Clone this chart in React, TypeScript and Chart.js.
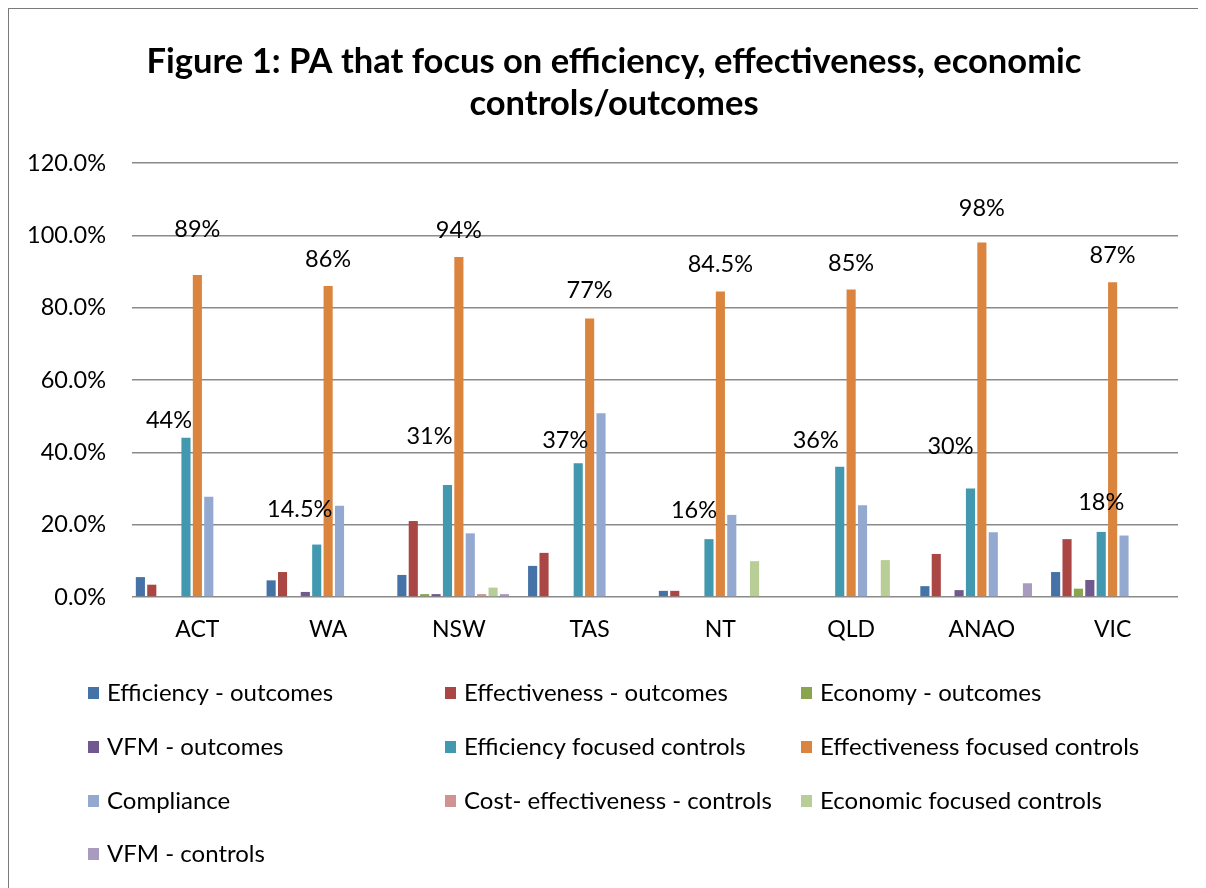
import React, { useEffect, useRef } from "react";
import { Chart, registerables } from "chart.js";

Chart.register(...registerables);

const categories = ["ACT", "WA", "NSW", "TAS", "NT", "QLD", "ANAO", "VIC"];

const efficiencyOutcomes = [5.5, 4.6, 6.1, 8.6, 1.7, 0, 3.0, 6.9];
const effectivenessOutcomes = [3.4, 6.9, 21.0, 12.2, 1.7, 0, 11.9, 16.0];
const economyOutcomes = [0, 0, 0.8, 0, 0, 0, 0, 2.3];
const vfmOutcomes = [0, 1.4, 0.8, 0, 0, 0, 1.9, 4.7];
const efficiencyControls = [44, 14.5, 31, 37, 16, 36, 30, 18];
const effectivenessControls = [89, 86, 94, 77, 84.5, 85, 98, 87];
const compliance = [27.7, 25.2, 17.6, 50.8, 22.7, 25.4, 17.9, 17.0];
const costEffectivenessControls = [0, 0, 0.8, 0, 0, 0, 0, 0];
const economicControls = [0, 0, 2.6, 0, 9.9, 10.2, 0, 0];
const vfmControls = [0, 0, 0.8, 0, 0, 0, 3.8, 0];

const seriesNames = [
  "Efficiency - outcomes",
  "Effectiveness - outcomes",
  "Economy - outcomes",
  "VFM - outcomes",
  "Efficiency focused controls",
  "Effectiveness focused controls",
  "Compliance",
  "Cost- effectiveness - controls",
  "Economic focused controls",
  "VFM - controls",
];
const seriesData = [
  efficiencyOutcomes,
  effectivenessOutcomes,
  economyOutcomes,
  vfmOutcomes,
  efficiencyControls,
  effectivenessControls,
  compliance,
  costEffectivenessControls,
  economicControls,
  vfmControls,
];
const seriesColors = [
  "#4572A7",
  "#AA4643",
  "#89A54E",
  "#71588F",
  "#4198AF",
  "#DB843D",
  "#93A9CF",
  "#D19392",
  "#B9CD96",
  "#A99BBD",
];

const yTickMax = 120;
const yTickStep = 20;

const titleLines = [
  "Figure 1: PA that focus on efficiency, effectiveness, economic",
  "controls/outcomes",
];

// label placement (offset of label centre from bar top-centre), styling only
const efficiencyLabelOffsets = [
  [-17, -17], [-17, -35], [-18, -48], [-13, -23],
  [-15, -29], [-24, -26], [-20, -42], [0, -29],
];
const effectivenessLabelOffsets = [
  [0, -46], [0, -27], [0, -27], [0, -28],
  [0, -27], [0, -26], [0, -34], [0, -27],
];

const FONT = "Lato, 'Open Sans', sans-serif";
const CW = 1197;
const CH = 879;

const fmtValue = (v: number) => `${v}%`;

const labelPlugin = {
  id: "valueLabels",
  afterDatasetsDraw(chart: any) {
    const ctx = chart.ctx;
    ctx.save();
    ctx.font = `23.5px ${FONT}`;
    ctx.fillStyle = "#000";
    ctx.textAlign = "center";
    ctx.textBaseline = "middle";
    const specs: [number, number[][]][] = [
      [4, efficiencyLabelOffsets],
      [5, effectivenessLabelOffsets],
    ];
    specs.forEach(([di, offs]) => {
      const meta = chart.getDatasetMeta(di);
      meta.data.forEach((el: any, i: number) => {
        const v = chart.data.datasets[di].data[i];
        const [dx, dy] = offs[i];
        ctx.fillText(fmtValue(v), el.x + dx, el.y + dy);
      });
    });
    ctx.restore();
  },
};

const titlePlugin = {
  id: "titleLines",
  afterDraw(chart: any) {
    const ctx = chart.ctx;
    ctx.save();
    ctx.font = `bold 34.5px ${FONT}`;
    ctx.fillStyle = "#000";
    ctx.textAlign = "center";
    ctx.textBaseline = "middle";
    ctx.fillText(titleLines[0], 605, 53);
    ctx.fillText(titleLines[1], 605, 95);
    ctx.restore();
  },
};

const legendPlugin = {
  id: "gridLegend",
  afterDraw(chart: any) {
    const ctx = chart.ctx;
    const colText = [98, 455, 811];
    const rowY = [684, 738, 792, 845];
    ctx.save();
    ctx.font = `24px ${FONT}`;
    ctx.textAlign = "left";
    ctx.textBaseline = "middle";
    seriesNames.forEach((name, i) => {
      const x = colText[i % 3];
      const y = rowY[Math.floor(i / 3)];
      ctx.fillStyle = seriesColors[i];
      ctx.fillRect(x - 19, y - 6, 11, 12);
      ctx.fillStyle = "#000";
      ctx.fillText(name, x, y);
    });
    ctx.restore();
  },
};

export default function App() {
  const ref = useRef<HTMLCanvasElement | null>(null);
  useEffect(() => {
    if (!ref.current) return;
    const datasets: any[] = seriesNames.map((name, i) => ({
      label: name,
      data: seriesData[i],
      backgroundColor: seriesColors[i],
      borderWidth: 0,
      barPercentage: 0.8,
      categoryPercentage: 0.959,
    }));
    // empty placeholder series (the original workbook reserves an 11th slot)
    datasets.push({
      label: "",
      data: categories.map(() => null),
      backgroundColor: "rgba(0,0,0,0)",
      borderWidth: 0,
      barPercentage: 0.8,
      categoryPercentage: 0.959,
    });
    const chart = new Chart(ref.current, {
      type: "bar",
      data: { labels: categories, datasets },
      options: {
        animation: false,
        responsive: false,
        maintainAspectRatio: false,
        layout: { padding: { top: 154, left: 0, right: 28, bottom: 231 } },
        plugins: {
          legend: { display: false },
          title: { display: false },
          tooltip: { enabled: false },
        },
        scales: {
          x: {
            grid: { display: false, drawTicks: false },
            border: { display: false },
            ticks: {
              color: "#000",
              font: { family: FONT, size: 23 },
              padding: 19,
            },
            afterFit: (scale: any) => {
              scale.height = 60;
            },
          },
          y: {
            min: 0,
            max: yTickMax,
            grid: { color: "#8a8a8a", lineWidth: 1.5, drawTicks: false },
            border: { display: false },
            ticks: {
              stepSize: yTickStep,
              color: "#000",
              font: { family: FONT, size: 23.5 },
              padding: 26,
              callback: (v: any) => `${Number(v).toFixed(1)}%`,
            },
            afterFit: (scale: any) => {
              scale.width = 123;
            },
          },
        },
      },
      plugins: [labelPlugin, titlePlugin, legendPlugin],
    });
    return () => chart.destroy();
  }, []);

  return (
    <div
      style={{
        width: 1198,
        height: 880,
        borderLeft: "1px solid #7a7a7a",
        borderTop: "1px solid #7a7a7a",
        background: "#fff",
        overflow: "hidden",
      }}
    >
      <canvas ref={ref} width={CW} height={CH} style={{ display: "block" }} />
    </div>
  );
}
